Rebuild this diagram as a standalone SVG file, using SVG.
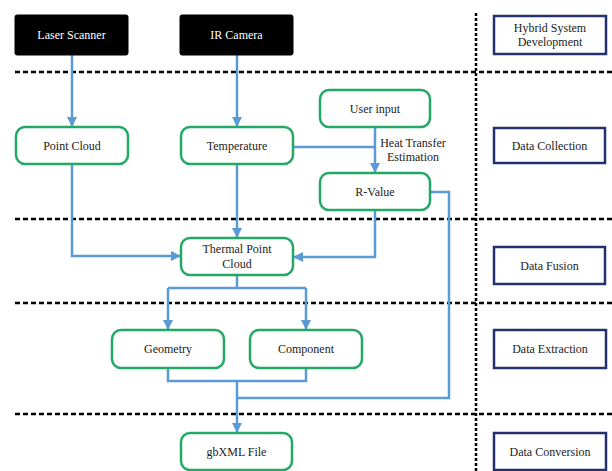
<svg xmlns="http://www.w3.org/2000/svg" width="612" height="471" viewBox="0 0 612 471">
<style>
text{font-family:"Times New Roman",Tinos,"Liberation Serif","DejaVu Serif","Noto Serif",serif;font-size:12px;text-anchor:middle;fill:#222}
.blk rect{fill:#000;stroke:#000}
.blk text{fill:#fff}
.grn rect{fill:#fff;stroke:#23a866;stroke-width:2.5}
.nav rect{fill:#fff;stroke:#24316e;stroke-width:2.5}
.dh{stroke:#000;stroke-width:2.5;stroke-dasharray:5 3;fill:none}
.dv{stroke:#000;stroke-width:2.5;stroke-dasharray:3 2;fill:none}
.c{stroke:#5b9bd5;stroke-width:2.5;fill:none}
</style>
<defs>
<marker id="ah" viewBox="0 0 10 10" refX="9" refY="5" markerWidth="4" markerHeight="4" orient="auto" markerUnits="strokeWidth">
<path d="M0,0 L10,5 L0,10 Z" fill="#5b9bd5"/>
</marker>
</defs>
<rect width="612" height="471" fill="#fff"/>
<g id="separators">
<line class="dh" x1="15" y1="72" x2="612" y2="72"/>
<line class="dh" x1="15" y1="219" x2="612" y2="219"/>
<line class="dh" x1="15" y1="303" x2="612" y2="303"/>
<line class="dh" x1="15" y1="414" x2="612" y2="414"/>
<line class="dv" x1="476" y1="13" x2="476" y2="471"/>
</g>
<g id="connectors">
<line class="c" x1="72" y1="55" x2="72" y2="126" marker-end="url(#ah)"/>
<line class="c" x1="237" y1="55" x2="237" y2="126" marker-end="url(#ah)"/>
<polyline class="c" points="72,164 72,256 180,256" marker-end="url(#ah)"/>
<line class="c" x1="237" y1="164" x2="237" y2="237" marker-end="url(#ah)"/>
<polyline class="c" points="293,147 375,147"/>
<line class="c" x1="375" y1="127" x2="375" y2="172" marker-end="url(#ah)"/>
<polyline class="c" points="375,210 375,257 294,257" marker-end="url(#ah)"/>
<polyline class="c" points="430,192 449,192 449,398 237,398"/>
<polyline class="c" points="237,275 237,288"/>
<polyline class="c" points="168,288 306,288"/>
<line class="c" x1="168" y1="288" x2="168" y2="329" marker-end="url(#ah)"/>
<line class="c" x1="306" y1="288" x2="306" y2="329" marker-end="url(#ah)"/>
<polyline class="c" points="168,368 168,381 306,381 306,368"/>
<line class="c" x1="237" y1="381" x2="237" y2="432" marker-end="url(#ah)"/>
<text x="413" y="147">Heat Transfer</text>
<text x="413" y="161">Estimation</text>
</g>
<g id="laser-scanner" class="blk"><rect x="15" y="15" width="113" height="40" rx="2"/><text x="71.5" y="39">Laser Scanner</text></g>
<g id="ir-camera" class="blk"><rect x="180" y="15" width="113" height="40" rx="2"/><text x="236.5" y="39">IR Camera</text></g>
<g id="point-cloud" class="grn"><rect x="16" y="127" width="112" height="37" rx="9"/><text x="72" y="149.5">Point Cloud</text></g>
<g id="temperature" class="grn"><rect x="181" y="127" width="112" height="37" rx="9"/><text x="237" y="149.5">Temperature</text></g>
<g id="user-input" class="grn"><rect x="320" y="90" width="110" height="37" rx="9"/><text x="375" y="112.5">User input</text></g>
<g id="r-value" class="grn"><rect x="320" y="173" width="110" height="37" rx="9"/><text x="375" y="195.5">R-Value</text></g>
<g id="thermal-point-cloud" class="grn"><rect x="181" y="238" width="112" height="37" rx="9"/><text x="237" y="253">Thermal Point</text><text x="237" y="268">Cloud</text></g>
<g id="geometry" class="grn"><rect x="112" y="330" width="112" height="38" rx="9"/><text x="168" y="353">Geometry</text></g>
<g id="component" class="grn"><rect x="250" y="330" width="112" height="38" rx="9"/><text x="306" y="353">Component</text></g>
<g id="gbxml-file" class="grn"><rect x="181" y="433" width="111" height="37" rx="9"/><text x="236.5" y="456">gbXML File</text></g>
<g id="hybrid-system-development" class="nav"><rect x="494" y="16" width="112" height="38"/><text x="550" y="32">Hybrid System</text><text x="550" y="46">Development</text></g>
<g id="data-collection" class="nav"><rect x="494" y="128" width="111" height="35"/><text x="549.5" y="149.5">Data Collection</text></g>
<g id="data-fusion" class="nav"><rect x="494" y="247" width="111" height="37"/><text x="549.5" y="269.5">Data Fusion</text></g>
<g id="data-extraction" class="nav"><rect x="494" y="330" width="112" height="38"/><text x="550" y="353">Data Extraction</text></g>
<g id="data-conversion" class="nav"><rect x="494" y="433" width="112" height="37"/><text x="550" y="456">Data Conversion</text></g>
</svg>
